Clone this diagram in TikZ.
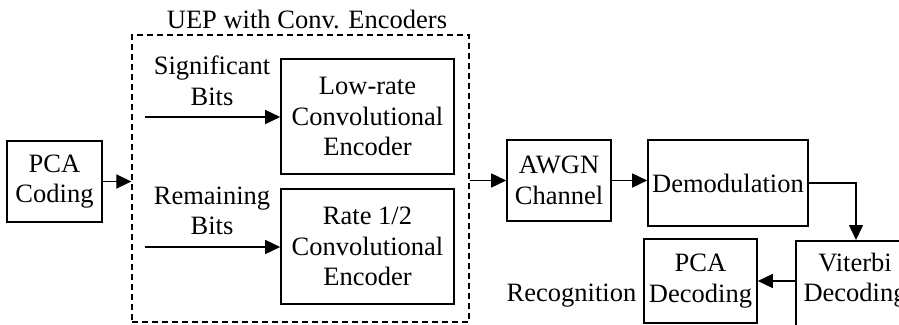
\documentclass[tikz,border=0pt]{standalone}
\usepackage{fontspec}
\setmainfont{Liberation Serif}
\usetikzlibrary{arrows.meta}
\begin{document}
\begin{tikzpicture}[x=1pt,y=-1pt,
  every node/.style={font=\fontsize{26.5}{30.5}\selectfont, align=center, inner sep=0pt},
  blk/.style={draw, line width=1.6pt},
  arr/.style={line width=1.5pt, -{Triangle[length=15pt,width=14pt]}},
  ln/.style={line width=1.5pt}]
\useasboundingbox (0,0) rectangle (899,324);
\clip (0,0) rectangle (899,324);
\node[blk, minimum width=95, minimum height=81] (pcac) at (54.5,181.5) {PCA\\Coding};
\node[draw, line width=1.3pt, dash pattern=on 6pt off 4pt, minimum width=337, minimum height=287] (uep) at (300.5,178.5) {};
\node (ueptitle) at (307,19) {UEP with Conv. Encoders};
\node[blk, minimum width=173, minimum height=115] (low) at (367.5,116.5) {Low-rate\\Convolutional\\Encoder};
\node[blk, minimum width=173, minimum height=115] (r12) at (367.5,246.5) {Rate 1/2\\Convolutional\\Encoder};
\node (sig) at (212,81) {Significant\\Bits};
\node (rem) at (212,211) {Remaining\\Bits};
\coordinate (sigin) at (145,117);
\coordinate (remin) at (145,247);
\node[blk, minimum width=104, minimum height=81] (awgn) at (559,180.5) {AWGN\\Channel};
\node[blk, minimum width=160, minimum height=86] (demod) at (728,183) {Demodulation};
\node[blk, minimum width=120, minimum height=120, anchor=north] (vit) at (856,240) {};
\node (vittext) at (855,280) {Viterbi\\Decoding};
\node[blk, minimum width=113, minimum height=84] (pcad) at (700.5,281) {PCA\\Decoding};
\node[anchor=base] (recog) at (571.5,301) {Recognition};
\draw[arr] (pcac.east) -- (pcac.east -| uep.west);
\draw[arr] (sigin) -- (sigin -| low.west);
\draw[arr] (remin) -- (remin -| r12.west);
\draw[arr] (awgn.west -| uep.east) -- (awgn.west);
\draw[arr] (awgn.east) -- (awgn.east -| demod.west);
\draw[arr] (demod.east) -| (vit.north);
\draw[arr] (vit.west |- pcad.east) -- (pcad.east);
\end{tikzpicture}
\end{document}
